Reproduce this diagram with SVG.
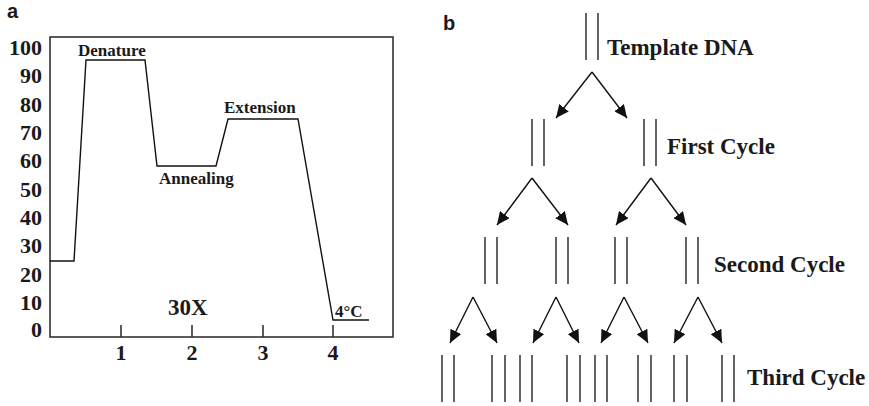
<svg xmlns="http://www.w3.org/2000/svg" width="869" height="406" viewBox="0 0 869 406">
  <style>
    .panel { font-family: "Liberation Sans", Arial, sans-serif; font-weight: bold; font-size: 20px; fill: #1a1a1a; }
    .lbl { font-family: "Liberation Serif", "Times New Roman", serif; font-weight: bold; fill: #1a1a1a; }
    .axis { font-size: 22px; }
    .step { font-size: 17px; }
    .cyc { font-size: 23px; }
    .frame { fill: none; stroke: #333; stroke-width: 1.6; }
    .trace { fill: none; stroke: #111; stroke-width: 1.4; stroke-linejoin: miter; }
    .strand { stroke: #222; stroke-width: 1.4; }
    .arrow { fill: none; stroke: #111; stroke-width: 1.4; marker-end: url(#head); }
  </style>
  <defs>
    <marker id="head" markerUnits="userSpaceOnUse" markerWidth="14" markerHeight="12" viewBox="0 0 14 12" refX="13" refY="6" orient="auto">
      <path d="M0,0 L13,6 L0,12 Z" fill="#111"/>
    </marker>
  </defs>
  <rect width="869" height="406" fill="#fff"/>

  <!-- panel a: thermal profile -->
  <g id="panel-a">
    <text class="panel" x="7" y="18">a</text>
    <g id="y-axis" class="lbl axis" text-anchor="end">
      <text x="42" y="55">100</text>
      <text x="42" y="83">90</text>
      <text x="42" y="112">80</text>
      <text x="42" y="140">70</text>
      <text x="42" y="168">60</text>
      <text x="42" y="197">50</text>
      <text x="42" y="225">40</text>
      <text x="42" y="253">30</text>
      <text x="42" y="282">20</text>
      <text x="42" y="310">10</text>
      <text x="42" y="337">0</text>
    </g>
    <rect class="frame" x="50" y="37" width="343" height="300"/>
    <g id="x-ticks" stroke="#333" stroke-width="1.6">
      <line x1="121" y1="325" x2="121" y2="337"/>
      <line x1="192" y1="325" x2="192" y2="337"/>
      <line x1="263" y1="325" x2="263" y2="337"/>
      <line x1="333" y1="325" x2="333" y2="337"/>
    </g>
    <g id="x-axis" class="lbl axis" text-anchor="middle">
      <text x="121" y="360">1</text>
      <text x="192" y="360">2</text>
      <text x="263" y="360">3</text>
      <text x="333" y="360">4</text>
    </g>
    <polyline class="trace" points="50,261 74,261 86,60 145,60 157,166 216,166 228,119 298,119 333,320 369,320"/>
    <g id="steps" class="lbl step">
      <text x="78" y="56">Denature</text>
      <text x="159" y="184">Annealing</text>
      <text x="224" y="113">Extension</text>
      <text x="335" y="317">4°C</text>
    </g>
    <text class="lbl" x="168" y="315" font-size="23">30X</text>
  </g>

  <!-- panel b: amplification tree -->
  <text class="panel" x="443" y="30">b</text>

  <g id="template">
    <line class="strand" x1="586" y1="13" x2="586" y2="60"/>
    <line class="strand" x1="598" y1="13" x2="598" y2="60"/>
    <text class="lbl cyc" x="607" y="55">Template DNA</text>
  </g>

  <g id="cycle-1">
    <line class="strand" x1="532" y1="119" x2="532" y2="166"/>
    <line class="strand" x1="544" y1="119" x2="544" y2="166"/>
    <line class="strand" x1="644" y1="119" x2="644" y2="166"/>
    <line class="strand" x1="656" y1="119" x2="656" y2="166"/>
    <text class="lbl cyc" x="667" y="154">First Cycle</text>
  </g>

  <g id="cycle-2">
    <line class="strand" x1="485" y1="237" x2="485" y2="284"/>
    <line class="strand" x1="497" y1="237" x2="497" y2="284"/>
    <line class="strand" x1="556" y1="237" x2="556" y2="284"/>
    <line class="strand" x1="568" y1="237" x2="568" y2="284"/>
    <line class="strand" x1="615" y1="237" x2="615" y2="284"/>
    <line class="strand" x1="627" y1="237" x2="627" y2="284"/>
    <line class="strand" x1="686" y1="237" x2="686" y2="284"/>
    <line class="strand" x1="698" y1="237" x2="698" y2="284"/>
    <text class="lbl cyc" x="714" y="272">Second Cycle</text>
  </g>

  <g id="cycle-3">
    <line class="strand" x1="442" y1="355" x2="442" y2="402"/>
    <line class="strand" x1="454" y1="355" x2="454" y2="402"/>
    <line class="strand" x1="492" y1="355" x2="492" y2="402"/>
    <line class="strand" x1="505" y1="355" x2="505" y2="402"/>
    <line class="strand" x1="520" y1="355" x2="520" y2="402"/>
    <line class="strand" x1="532" y1="355" x2="532" y2="402"/>
    <line class="strand" x1="567" y1="355" x2="567" y2="402"/>
    <line class="strand" x1="580" y1="355" x2="580" y2="402"/>
    <line class="strand" x1="595" y1="355" x2="595" y2="402"/>
    <line class="strand" x1="607" y1="355" x2="607" y2="402"/>
    <line class="strand" x1="638" y1="355" x2="638" y2="402"/>
    <line class="strand" x1="651" y1="355" x2="651" y2="402"/>
    <line class="strand" x1="674" y1="355" x2="674" y2="402"/>
    <line class="strand" x1="687" y1="355" x2="687" y2="402"/>
    <line class="strand" x1="722" y1="355" x2="722" y2="402"/>
    <line class="strand" x1="734" y1="355" x2="734" y2="402"/>
    <text class="lbl cyc" x="747" y="385">Third Cycle</text>
  </g>

  <g id="connectors">
    <line class="arrow" x1="592" y1="72" x2="556" y2="118"/>
    <line class="arrow" x1="592" y1="72" x2="627" y2="118"/>

    <line class="arrow" x1="532" y1="178" x2="497" y2="225"/>
    <line class="arrow" x1="532" y1="178" x2="568" y2="225"/>
    <line class="arrow" x1="651" y1="178" x2="616" y2="225"/>
    <line class="arrow" x1="651" y1="178" x2="686" y2="225"/>

    <line class="arrow" x1="473" y1="297" x2="450" y2="343"/>
    <line class="arrow" x1="473" y1="297" x2="497" y2="343"/>
    <line class="arrow" x1="556" y1="297" x2="533" y2="343"/>
    <line class="arrow" x1="556" y1="297" x2="579" y2="343"/>
    <line class="arrow" x1="624" y1="297" x2="601" y2="343"/>
    <line class="arrow" x1="624" y1="297" x2="648" y2="343"/>
    <line class="arrow" x1="698" y1="297" x2="674" y2="343"/>
    <line class="arrow" x1="698" y1="297" x2="722" y2="343"/>
  </g>
</svg>
